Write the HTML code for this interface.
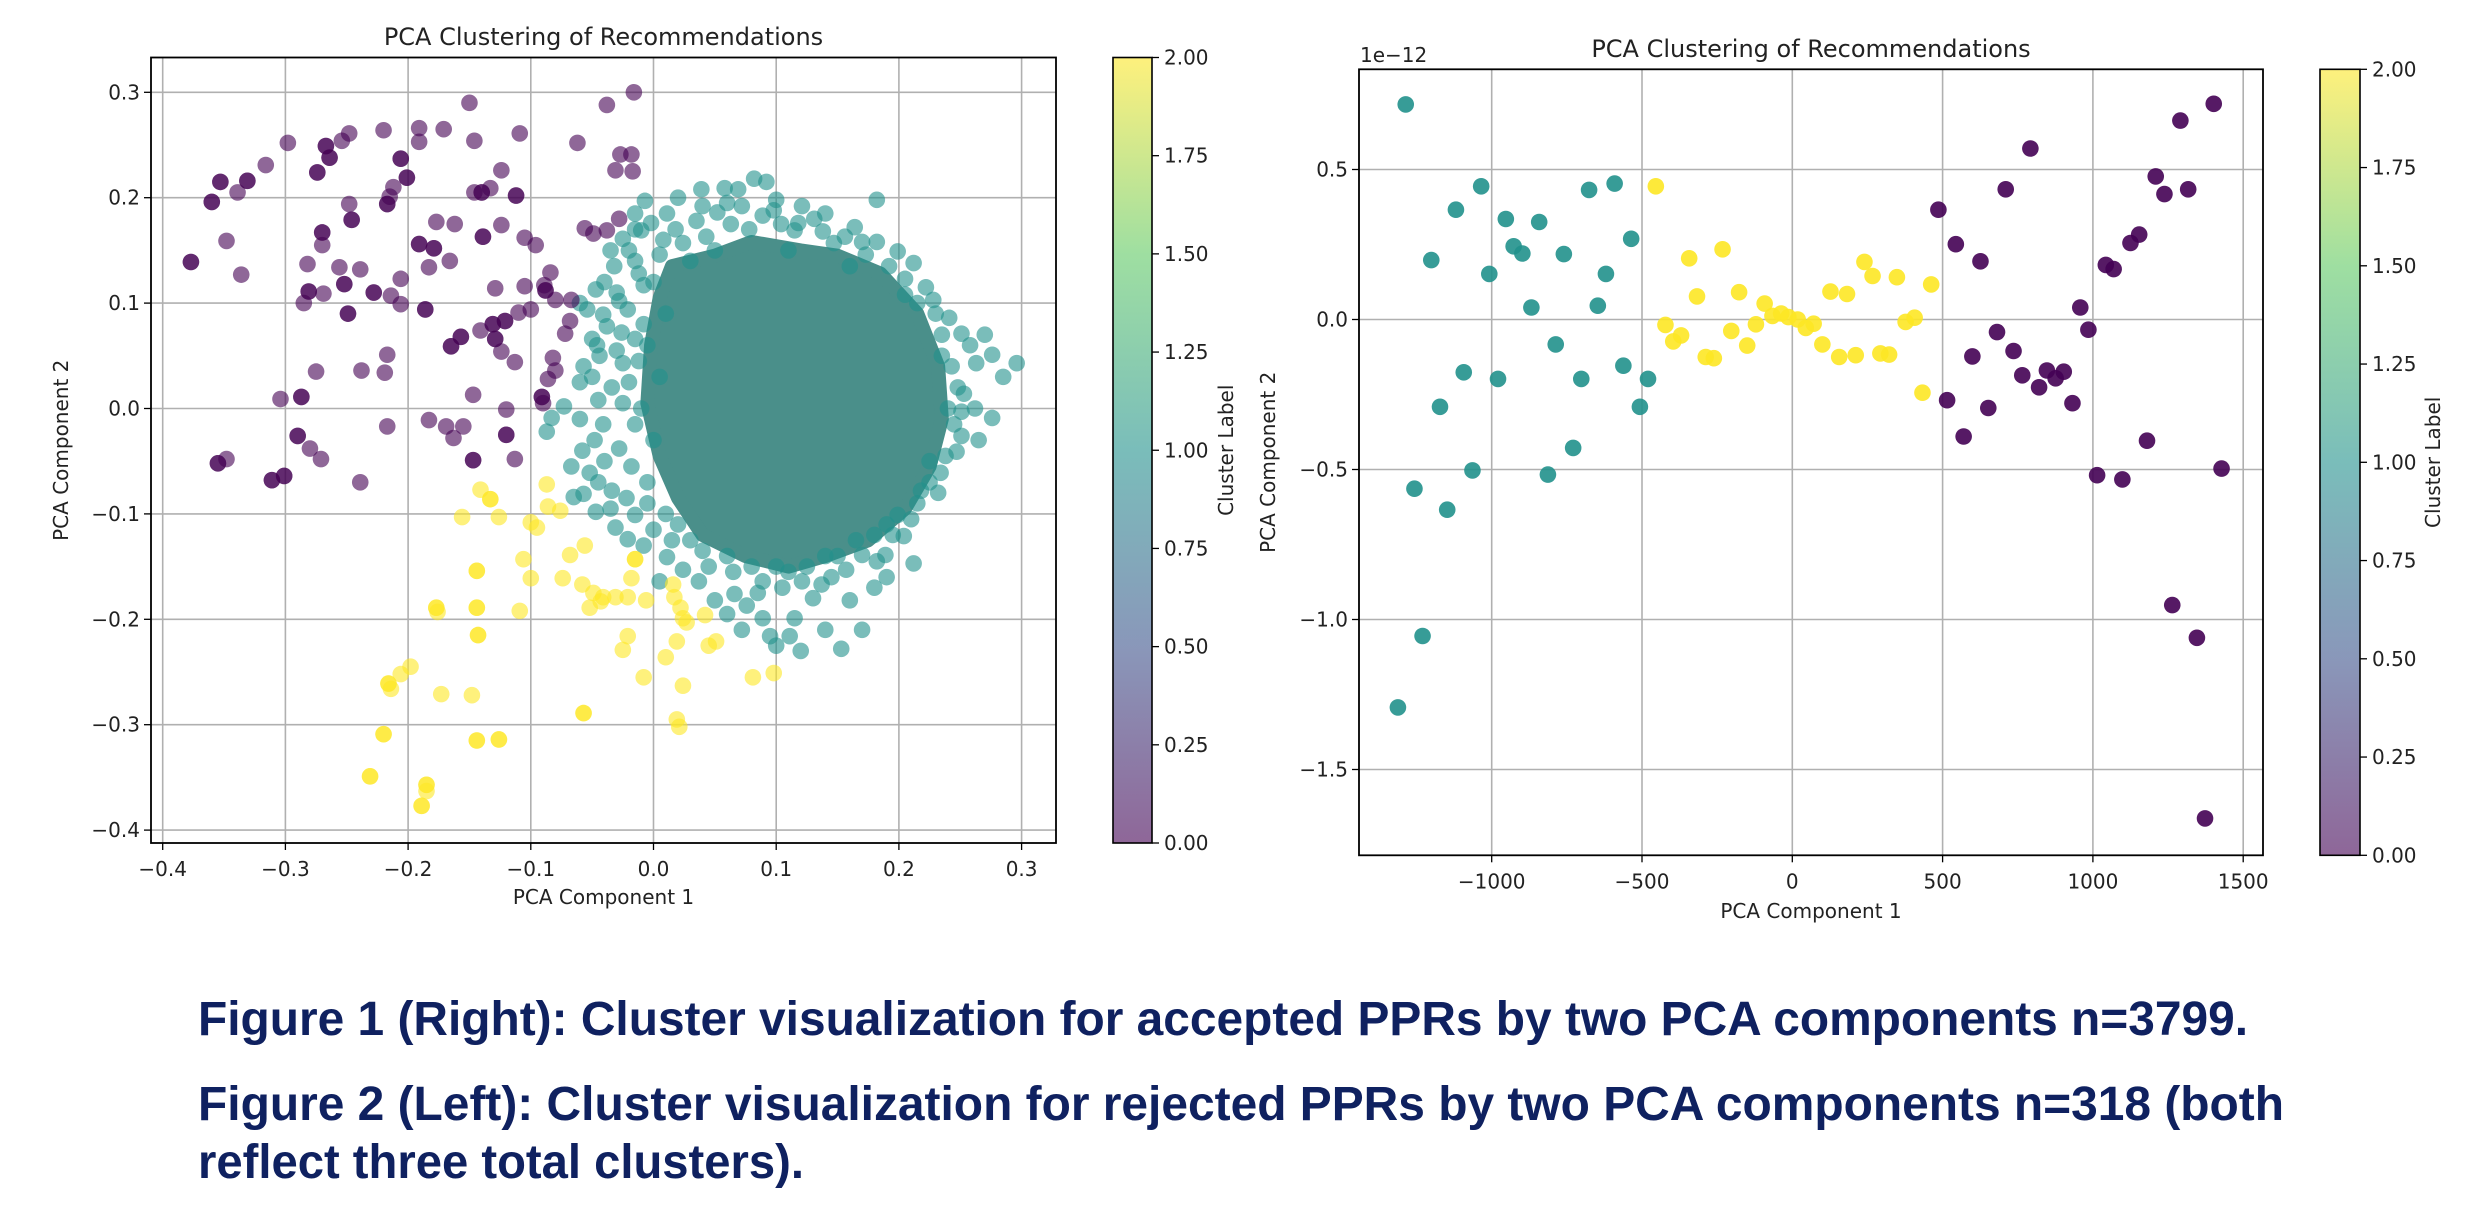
<!DOCTYPE html>
<html><head><meta charset="utf-8"><style>
html,body{margin:0;padding:0;background:#fff;}
svg{display:block;}
text{font-family:"DejaVu Sans","Liberation Sans",sans-serif;fill:#222;}
.cap{font-family:"Liberation Sans",sans-serif;font-weight:bold;fill:#0f2160;}
</style></head><body>
<svg id="fig" width="2482" height="1208" viewBox="0 0 2482 1208" xmlns="http://www.w3.org/2000/svg">
<defs>
<linearGradient id="vir" x1="0" y1="1" x2="0" y2="0">
<stop offset="0" stop-color="#440154"/><stop offset="0.25" stop-color="#3b528b"/><stop offset="0.5" stop-color="#21918c"/><stop offset="0.75" stop-color="#5ec962"/><stop offset="1" stop-color="#fde725"/>
</linearGradient>
</defs>
<g id="left"></g>
<g id="right"></g>
<text class="cap" x="198" y="1035" font-size="48" textLength="2050" lengthAdjust="spacingAndGlyphs">Figure 1 (Right): Cluster visualization for accepted PPRs by two PCA components n=3799.</text>
<text class="cap" x="198" y="1120" font-size="48" textLength="2086" lengthAdjust="spacingAndGlyphs">Figure 2 (Left): Cluster visualization for rejected PPRs by two PCA components n=318 (both</text>
<text class="cap" x="198" y="1178" font-size="48" textLength="606" lengthAdjust="spacingAndGlyphs">reflect three total clusters).</text>
</svg>
<script>
// ---- Left chart data ----
const leftXTicks = [-0.4,-0.3,-0.2,-0.1,0.0,0.1,0.2,0.3];
const leftXTickLabels = ["\u22120.4","\u22120.3","\u22120.2","\u22120.1","0.0","0.1","0.2","0.3"];
const leftYTicks = [0.3,0.2,0.1,0.0,-0.1,-0.2,-0.3,-0.4];
const leftYTickLabels = ["0.3","0.2","0.1","0.0","\u22120.1","\u22120.2","\u22120.3","\u22120.4"];
const leftPurple = [[-0.150,0.290],[-0.016,0.300],[-0.038,0.288],[-0.220,0.264],[-0.191,0.266],[-0.171,0.265],[-0.109,0.261],[-0.191,0.253],[-0.146,0.254],[-0.062,0.252],[-0.248,0.261],[-0.254,0.254],[-0.267,0.249],[-0.267,0.249],[-0.264,0.238],[-0.264,0.238],[-0.274,0.224],[-0.274,0.224],[-0.298,0.252],[-0.316,0.231],[-0.331,0.216],[-0.331,0.216],[-0.353,0.215],[-0.353,0.215],[-0.360,0.196],[-0.360,0.196],[-0.339,0.205],[-0.206,0.237],[-0.206,0.237],[-0.201,0.219],[-0.201,0.219],[-0.212,0.210],[-0.217,0.194],[-0.217,0.194],[-0.215,0.201],[-0.248,0.194],[-0.246,0.179],[-0.246,0.179],[-0.124,0.226],[-0.133,0.209],[-0.146,0.205],[-0.140,0.205],[-0.140,0.205],[-0.112,0.202],[-0.112,0.202],[-0.027,0.241],[-0.018,0.241],[-0.031,0.226],[-0.017,0.225],[-0.028,0.180],[-0.177,0.177],[-0.162,0.175],[-0.124,0.174],[-0.056,0.171],[-0.049,0.166],[-0.038,0.169],[-0.270,0.167],[-0.270,0.167],[-0.270,0.155],[-0.348,0.159],[-0.377,0.139],[-0.377,0.139],[-0.191,0.156],[-0.191,0.156],[-0.179,0.152],[-0.179,0.152],[-0.139,0.163],[-0.139,0.163],[-0.105,0.162],[-0.096,0.155],[-0.166,0.140],[-0.183,0.134],[-0.282,0.137],[-0.256,0.134],[-0.239,0.132],[-0.336,0.127],[-0.206,0.123],[-0.084,0.129],[-0.252,0.118],[-0.252,0.118],[-0.228,0.110],[-0.228,0.110],[-0.281,0.111],[-0.281,0.111],[-0.269,0.109],[-0.285,0.100],[-0.214,0.107],[-0.206,0.099],[-0.129,0.114],[-0.105,0.116],[-0.089,0.117],[-0.088,0.112],[-0.088,0.112],[-0.080,0.103],[-0.067,0.103],[-0.186,0.094],[-0.186,0.094],[-0.249,0.090],[-0.249,0.090],[-0.110,0.091],[-0.100,0.094],[-0.131,0.080],[-0.131,0.080],[-0.121,0.083],[-0.121,0.083],[-0.141,0.074],[-0.157,0.068],[-0.157,0.068],[-0.165,0.059],[-0.165,0.059],[-0.129,0.066],[-0.129,0.066],[-0.072,0.071],[-0.068,0.083],[-0.124,0.054],[-0.113,0.044],[-0.217,0.051],[-0.082,0.048],[-0.086,0.028],[-0.080,0.036],[-0.275,0.035],[-0.238,0.036],[-0.219,0.034],[-0.147,0.013],[-0.091,0.011],[-0.091,0.011],[-0.090,0.005],[-0.287,0.011],[-0.287,0.011],[-0.304,0.009],[-0.120,-0.001],[-0.183,-0.011],[-0.217,-0.017],[-0.169,-0.017],[-0.155,-0.017],[-0.163,-0.028],[-0.120,-0.025],[-0.120,-0.025],[-0.290,-0.026],[-0.290,-0.026],[-0.280,-0.038],[-0.271,-0.048],[-0.147,-0.049],[-0.147,-0.049],[-0.113,-0.048],[-0.355,-0.052],[-0.355,-0.052],[-0.348,-0.048],[-0.311,-0.068],[-0.311,-0.068],[-0.301,-0.064],[-0.301,-0.064],[-0.239,-0.070]];
const leftYellow = [[-0.141,-0.077],[-0.133,-0.086],[-0.133,-0.086],[-0.156,-0.103],[-0.126,-0.103],[-0.087,-0.072],[-0.086,-0.093],[-0.076,-0.097],[-0.100,-0.108],[-0.095,-0.113],[-0.106,-0.143],[-0.068,-0.139],[-0.056,-0.130],[-0.144,-0.154],[-0.144,-0.154],[-0.100,-0.161],[-0.074,-0.161],[-0.058,-0.167],[-0.015,-0.143],[-0.015,-0.143],[-0.018,-0.161],[-0.049,-0.175],[-0.041,-0.179],[-0.031,-0.179],[-0.021,-0.179],[-0.006,-0.182],[-0.052,-0.189],[-0.043,-0.183],[0.016,-0.167],[0.017,-0.179],[0.022,-0.189],[0.024,-0.199],[0.027,-0.203],[0.042,-0.196],[-0.177,-0.189],[-0.177,-0.189],[-0.176,-0.193],[-0.144,-0.189],[-0.144,-0.189],[-0.109,-0.192],[-0.143,-0.215],[-0.143,-0.215],[-0.021,-0.216],[-0.025,-0.229],[0.019,-0.221],[0.010,-0.236],[0.045,-0.225],[0.051,-0.221],[-0.198,-0.245],[-0.206,-0.252],[-0.216,-0.261],[-0.216,-0.261],[-0.214,-0.266],[-0.008,-0.255],[0.024,-0.263],[0.081,-0.255],[0.098,-0.251],[-0.173,-0.271],[-0.148,-0.272],[-0.057,-0.289],[-0.057,-0.289],[0.019,-0.295],[0.021,-0.302],[-0.220,-0.309],[-0.220,-0.309],[-0.144,-0.315],[-0.144,-0.315],[-0.126,-0.314],[-0.126,-0.314],[-0.231,-0.349],[-0.231,-0.349],[-0.185,-0.357],[-0.185,-0.357],[-0.185,-0.363],[-0.189,-0.377],[-0.189,-0.377]];
const leftTeal = [[0.039,0.208],[0.058,0.209],[0.069,0.208],[0.082,0.218],[0.092,0.215],[0.100,0.198],[-0.007,0.197],[0.011,0.185],[0.121,0.192],[0.182,0.198],[-0.015,0.185],[-0.015,0.170],[-0.025,0.161],[-0.010,0.169],[0.164,0.172],[0.131,0.180],[-0.047,0.113],[-0.054,0.094],[-0.041,0.089],[-0.050,0.066],[-0.046,0.060],[-0.057,0.040],[-0.060,0.025],[-0.073,0.002],[-0.083,-0.009],[-0.087,-0.022],[-0.067,-0.055],[-0.052,-0.061],[-0.057,-0.081],[-0.065,-0.084],[-0.047,-0.098],[-0.031,-0.113],[-0.015,-0.101],[-0.021,-0.124],[-0.008,-0.130],[-0.034,-0.078],[-0.028,-0.038],[-0.041,-0.015],[-0.034,0.020],[-0.025,0.043],[-0.015,0.066],[-0.021,0.094],[-0.008,0.117],[-0.015,0.140],[0.005,0.146],[0.024,0.157],[0.043,0.163],[0.063,0.175],[0.089,0.183],[0.115,0.169],[0.147,0.157],[0.173,0.146],[0.199,0.149],[0.205,0.123],[0.228,0.103],[0.241,0.086],[0.251,0.071],[0.270,0.070],[0.276,0.051],[0.296,0.043],[0.263,0.043],[0.253,0.014],[0.276,-0.009],[0.251,-0.003],[0.251,-0.026],[0.247,-0.041],[0.234,-0.061],[0.218,-0.078],[0.215,-0.090],[0.199,-0.101],[0.204,-0.121],[0.189,-0.139],[0.212,-0.147],[0.170,-0.139],[0.157,-0.153],[0.160,-0.182],[0.170,-0.210],[0.153,-0.228],[0.140,-0.210],[0.115,-0.199],[0.111,-0.216],[0.095,-0.216],[0.089,-0.199],[0.076,-0.187],[0.066,-0.176],[0.050,-0.182],[0.037,-0.164],[0.024,-0.153],[0.011,-0.141],[0.005,-0.164],[0.089,-0.164],[0.121,-0.164],[0.137,-0.167],[0.000,0.120],[0.010,0.090],[-0.005,0.060],[0.005,0.030],[-0.010,0.000],[0.000,-0.030],[-0.005,-0.070],[0.010,-0.100],[0.030,0.140],[0.050,0.150],[0.110,0.150],[0.160,0.135],[0.215,0.100],[0.235,0.050],[0.240,0.000],[0.225,-0.050],[0.190,-0.110],[0.140,-0.140],[0.100,-0.150],[0.060,-0.140],[0.030,-0.125],[-0.030,0.110],[-0.040,0.120],[-0.060,0.100],
[-0.002,0.176],[0.018,0.170],[0.035,0.178],[0.052,0.186],[0.072,0.192],[0.098,0.188],[0.118,0.176],[0.138,0.168],[0.156,0.163],[0.182,0.158],[0.192,0.135],[0.212,0.138],[0.008,0.160],[-0.020,0.150],[-0.032,0.135],[-0.012,0.128],[-0.028,0.102],[-0.038,0.078],[-0.026,0.072],[-0.008,0.080],[-0.044,0.050],[-0.030,0.055],[-0.012,0.045],[-0.050,0.030],[-0.020,0.025],[-0.045,0.008],[-0.025,0.005],[-0.060,-0.010],[-0.048,-0.030],[-0.015,-0.015],[-0.058,-0.040],[-0.040,-0.050],[-0.018,-0.055],[-0.045,-0.070],[-0.022,-0.085],[-0.005,-0.090],[-0.035,-0.095],[0.000,-0.115],[0.015,-0.125],[0.020,-0.110],[0.040,-0.135],[0.045,-0.150],[0.065,-0.155],[0.080,-0.150],[0.085,-0.175],[0.105,-0.170],[0.110,-0.155],[0.125,-0.150],[0.130,-0.180],[0.145,-0.160],[0.150,-0.140],[0.165,-0.125],[0.180,-0.120],[0.182,-0.145],[0.195,-0.120],[0.210,-0.105],[0.225,-0.070],[0.238,-0.045],[0.232,-0.080],[0.245,-0.015],[0.248,0.020],[0.243,0.040],[0.235,0.070],[0.230,0.090],[0.222,0.115],[0.205,0.108],[0.262,0.000],[0.265,-0.030],[0.258,0.060],[0.285,0.030],[0.170,0.158],[0.140,0.185],[0.104,0.175],[0.078,0.170],[0.060,0.195],[0.020,0.200],[0.040,0.192],[-0.035,0.150],[0.120,-0.230],[0.100,-0.225],[0.060,-0.195],[0.072,-0.210],[0.180,-0.170],[0.190,-0.160]];
const leftCoreHull = [[0.015,0.135],[0.050,0.145],[0.080,0.158],[0.120,0.150],[0.150,0.145],[0.185,0.128],[0.215,0.090],[0.232,0.040],[0.235,-0.010],[0.225,-0.055],[0.205,-0.095],[0.175,-0.125],[0.140,-0.140],[0.110,-0.150],[0.075,-0.140],[0.040,-0.120],[0.020,-0.085],[0.005,-0.045],[-0.005,0.005],[-0.002,0.060],[0.005,0.105]];

// ---- Right chart data ----
const rightXTicks = [-1000,-500,0,500,1000,1500];
const rightXTickLabels = ["\u22121000","\u2212500","0","500","1000","1500"];
const rightYTicks = [0.5,0.0,-0.5,-1.0,-1.5];
const rightYTickLabels = ["0.5","0.0","\u22120.5","\u22121.0","\u22121.5"];
const rightTeal = [[-1286,0.717],[-1035,0.444],[-1119,0.366],[-953,0.335],[-842,0.325],[-927,0.244],[-898,0.220],[-1201,0.198],[-1008,0.152],[-676,0.432],[-591,0.453],[-536,0.269],[-620,0.152],[-760,0.218],[-868,0.040],[-647,0.046],[-787,-0.083],[-1093,-0.176],[-979,-0.198],[-1172,-0.291],[-702,-0.198],[-562,-0.154],[-480,-0.198],[-507,-0.291],[-729,-0.428],[-1064,-0.503],[-813,-0.517],[-1257,-0.564],[-1148,-0.634],[-1230,-1.055],[-1312,-1.293]];
const rightYellow = [[-454,0.444],[-343,0.204],[-232,0.234],[-317,0.077],[-177,0.091],[-92,0.053],[-66,0.012],[-37,0.020],[-13,0.008],[18,0.000],[45,-0.028],[71,-0.014],[-422,-0.018],[-370,-0.053],[-396,-0.073],[-203,-0.038],[-121,-0.016],[-150,-0.087],[-288,-0.125],[-261,-0.129],[100,-0.083],[127,0.093],[182,0.085],[156,-0.125],[211,-0.119],[240,0.192],[267,0.145],[293,-0.113],[322,-0.117],[348,0.141],[377,-0.008],[407,0.006],[462,0.117],[433,-0.244]];
const rightPurple = [[1402,0.719],[1291,0.663],[792,0.570],[1209,0.477],[1238,0.418],[1317,0.434],[710,0.434],[486,0.366],[544,0.251],[626,0.194],[1154,0.283],[1125,0.255],[1043,0.182],[1069,0.168],[958,0.040],[985,-0.034],[681,-0.042],[736,-0.105],[599,-0.123],[765,-0.186],[847,-0.170],[903,-0.174],[876,-0.196],[821,-0.226],[932,-0.279],[515,-0.269],[652,-0.295],[570,-0.390],[1180,-0.404],[1014,-0.519],[1098,-0.533],[1428,-0.497],[1264,-0.952],[1346,-1.061],[1373,-1.663]];
const cbTicks = [0,0.25,0.5,0.75,1,1.25,1.5,1.75,2];
const cbTickLabels = ["0.00","0.25","0.50","0.75","1.00","1.25","1.50","1.75","2.00"];

const NS = "http://www.w3.org/2000/svg";
function mk(parent, tag, attrs, txt){
  const e = document.createElementNS(NS, tag);
  for (const k in attrs) e.setAttribute(k, attrs[k]);
  if (txt !== undefined) e.textContent = txt;
  parent.appendChild(e);
  return e;
}

function drawChart(g, cfg){
  const xs = v => cfg.x0 + (v - cfg.xv0) * cfg.xk;
  const ys = v => cfg.y0 - (v - cfg.yv0) * cfg.yk;
  cfg.xTicks.forEach((t,i)=>{
    const l = mk(g,'line',{x1:xs(t),x2:xs(t),y1:cfg.top,y2:cfg.bottom,stroke:'#b0b0b0','stroke-width':1.6});
    
    
    mk(g,'line',{x1:xs(t),x2:xs(t),y1:cfg.bottom,y2:cfg.bottom+7,stroke:'#000','stroke-width':1.3});
    const tx = mk(g,'text',{x:xs(t),y:cfg.bottom+33,'font-size':20,'text-anchor':'middle'},cfg.xLabels[i]);
    
    
  });
  cfg.yTicks.forEach((t,i)=>{
    const l = mk(g,'line',{x1:cfg.left,x2:cfg.right,y1:ys(t),y2:ys(t),stroke:'#b0b0b0','stroke-width':1.6});
    
    
    mk(g,'line',{x1:cfg.left-7,x2:cfg.left,y1:ys(t),y2:ys(t),stroke:'#000','stroke-width':1.3});
    const tx = mk(g,'text',{x:cfg.left-11,y:ys(t)+7,'font-size':20,'text-anchor':'end'},cfg.yLabels[i]);
    
    
  });
  const clip = 'clip'+cfg.id;
  const cp = mk(g,'clipPath',{id:clip});
  mk(cp,'rect',{x:cfg.left,y:cfg.top,width:cfg.right-cfg.left,height:cfg.bottom-cfg.top});
  const pg = mk(g,'g',{'clip-path':'url(#'+clip+')'});
  
  
  if (cfg.hull){
    const p = mk(pg,'polygon',{points:cfg.hull.map(d=>xs(d[0])+','+ys(d[1])).join(' '),fill:'#4a8f8a',stroke:'#4a8f8a','stroke-width':14,'stroke-linejoin':'round'});
    
    
  }
  cfg.series.forEach(s=>{
    s.data.forEach(d=>{
      const c = mk(pg,'circle',{cx:xs(d[0]),cy:ys(d[1]),r:8.3,fill:s.color,'fill-opacity':cfg.alpha});
      
      
    });
  });
  const fr = mk(g,'rect',{x:cfg.left,y:cfg.top,width:cfg.right-cfg.left,height:cfg.bottom-cfg.top,fill:'none',stroke:'#000','stroke-width':1.8});
  
  
  const ti = mk(g,'text',{x:(cfg.left+cfg.right)/2,y:cfg.titleY,'font-size':24,'text-anchor':'middle'},'PCA Clustering of Recommendations');
  
  
  const xl = mk(g,'text',{x:(cfg.left+cfg.right)/2,y:cfg.xlabY,'font-size':20,'text-anchor':'middle'},'PCA Component 1');
  
  
  const yl = mk(g,'text',{x:0,y:0,'font-size':20,'text-anchor':'middle',transform:'translate('+cfg.ylabX+','+(cfg.top+cfg.bottom)/2+') rotate(-90)'},'PCA Component 2');
  
  
  const cb = mk(g,'g',{});
  
  
  const cbTop = cfg.top, cbBot = cfg.bottom;
  mk(cb,'rect',{x:cfg.cbX,y:cbTop,width:cfg.cbW,height:cbBot-cbTop,fill:'url(#vir)','fill-opacity':0.6});
  mk(cb,'rect',{x:cfg.cbX,y:cbTop,width:cfg.cbW,height:cbBot-cbTop,fill:'none',stroke:'#000','stroke-width':1.6});
  cbTicks.forEach((t,i)=>{
    const yy = cbBot - t/2*(cbBot-cbTop);
    mk(cb,'line',{x1:cfg.cbX+cfg.cbW,x2:cfg.cbX+cfg.cbW+7,y1:yy,y2:yy,stroke:'#000','stroke-width':1.3});
    const tx = mk(cb,'text',{x:cfg.cbX+cfg.cbW+12,y:yy+7,'font-size':20},cbTickLabels[i]);
    
    
  });
  const cl = mk(cb,'text',{x:0,y:0,'font-size':20,'text-anchor':'middle',transform:'translate('+cfg.cbLabX+','+(cbTop+cbBot)/2+') rotate(-90)'},'Cluster Label');
  
  
}

drawChart(document.getElementById('left'),{
  id:'L', left:151, right:1056, top:57.5, bottom:843,
  x0:162.7, xv0:-0.4, xk:1227, y0:92.3, yv0:0.3, yk:1054,
  xTicks:leftXTicks, xLabels:leftXTickLabels, yTicks:leftYTicks, yLabels:leftYTickLabels,
  hull:leftCoreHull, alpha:0.6,
  series:[{name:'point-cluster-1',color:'#21918c',data:leftTeal},{name:'point-cluster-0',color:'#440154',data:leftPurple},{name:'point-cluster-2',color:'#fde725',data:leftYellow}],
  titleY:45, xlabY:904, ylabX:68, cbX:1113, cbW:39, cbLabX:1233
});
drawChart(document.getElementById('right'),{
  id:'R', left:1359, right:2263, top:69.3, bottom:855.3,
  x0:1491.7, xv0:-1000, xk:0.3006, y0:169.5, yv0:0.5, yk:300,
  xTicks:rightXTicks, xLabels:rightXTickLabels, yTicks:rightYTicks, yLabels:rightYTickLabels,
  hull:null, alpha:0.9,
  series:[{name:'point-cluster-1',color:'#21918c',data:rightTeal},{name:'point-cluster-0',color:'#440154',data:rightPurple},{name:'point-cluster-2',color:'#fde725',data:rightYellow}],
  titleY:57, xlabY:918, ylabX:1275, cbX:2320, cbW:40, cbLabX:2440
});
const off = document.createElementNS(NS,'text');
off.setAttribute('x',1360); off.setAttribute('y',62); off.setAttribute('font-size',20);
off.textContent = '1e\u221212';


document.getElementById('right').appendChild(off);
</script>
</body></html>
